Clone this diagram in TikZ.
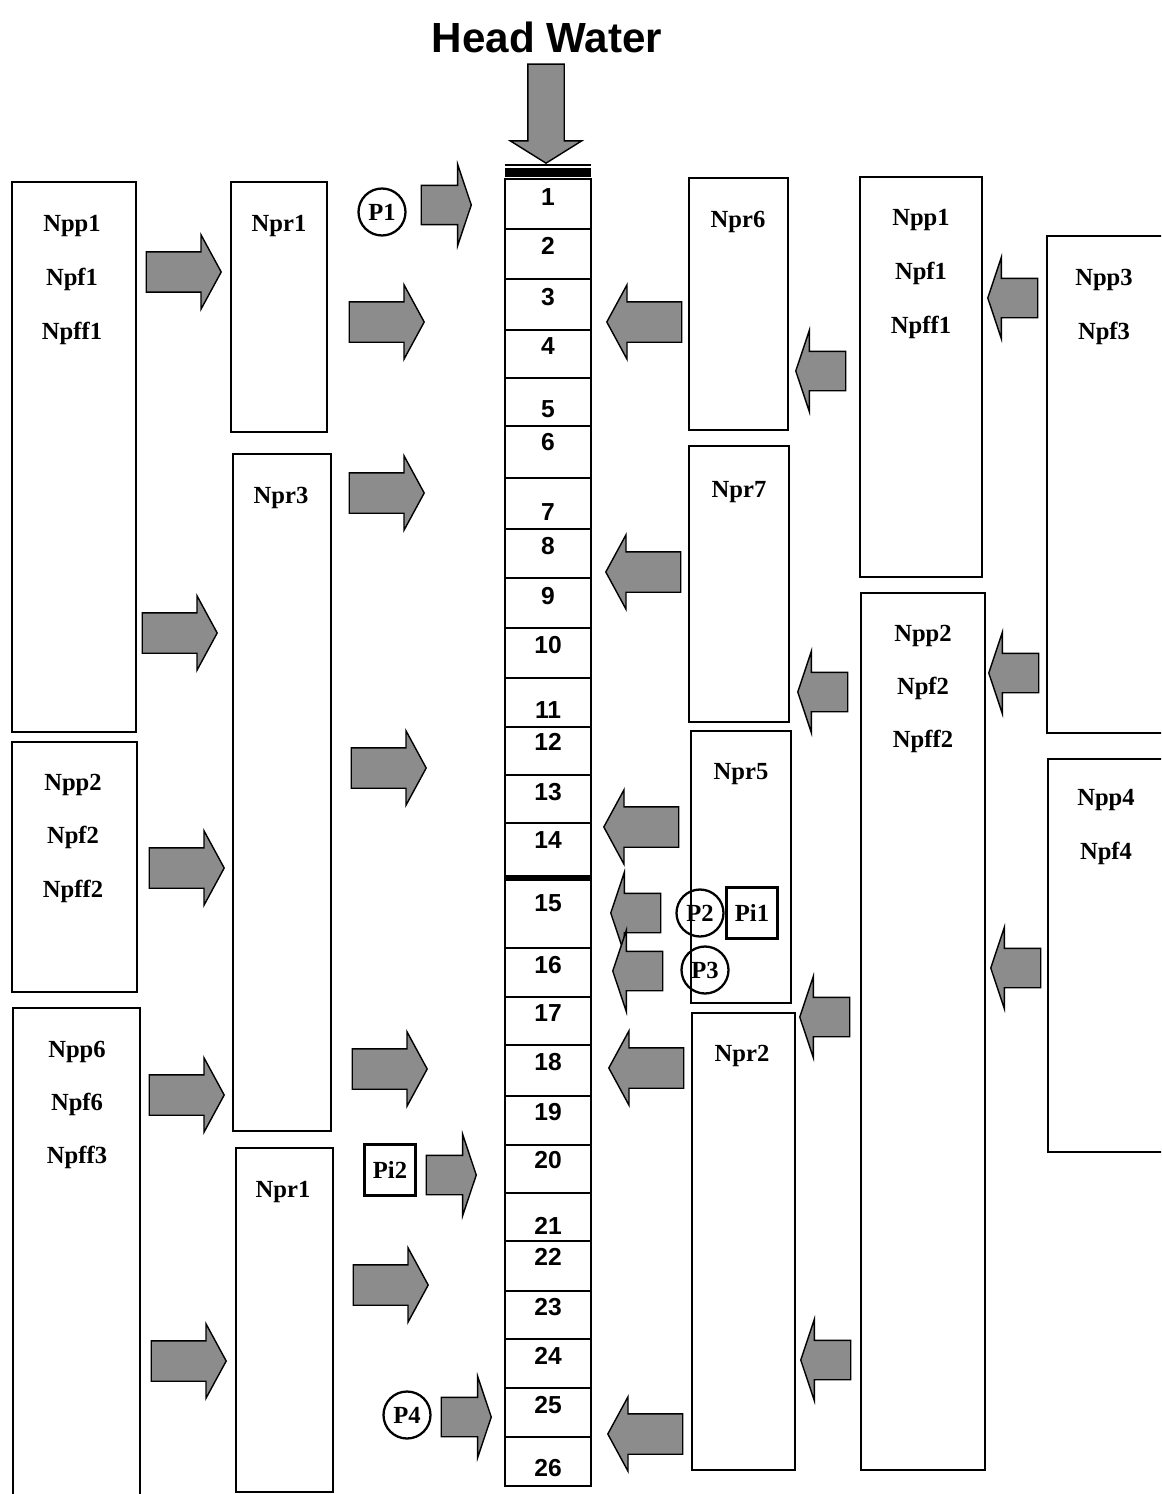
\documentclass[tikz,border=0pt]{standalone}
\usepackage{fontspec}
\setmainfont{Liberation Serif}
\newfontfamily\headfont{Liberation Sans}
\usetikzlibrary{shapes.arrows,positioning,fit,calc}
\definecolor{flowgray}{RGB}{140,140,140}

\tikzset{
    unitbox/.style={draw, line width=1pt, rectangle, inner sep=0pt},
    lbl/.style={font=\fontsize{14}{16}\selectfont\bfseries, inner sep=0pt, text height=9.3pt, text depth=0pt},
    cellnum/.style={font=\headfont\fontsize{14}{16}\selectfont\bfseries, inner sep=0pt, text height=10pt, text depth=0pt},
    pump/.style={draw, circle, line width=1.3pt, minimum size=0.94cm, inner sep=0pt, font=\fontsize{14}{16}\selectfont\bfseries},
    intake/.style={draw, rectangle, line width=1.3pt, minimum size=1.02cm, inner sep=0pt, font=\fontsize{14}{16}\selectfont\bfseries},
    flow/.style={single arrow, draw, line width=0.8pt, fill=flowgray, anchor=tip},
    bigflow/.style={flow, inner sep=0.39cm, minimum height=1.5cm, single arrow head extend=0.34cm, single arrow tip angle=123},
    smallflow/.style={flow, inner sep=0.38cm, minimum height=1.0cm, single arrow head extend=0.42cm, single arrow tip angle=143},
    toleft/.style={shape border rotate=180}
}

\begin{document}
\begin{tikzpicture}[x=0.02cm, y=-0.02cm]
    \clip (0,0) rectangle (1161,1494);
    \fill[white] (0,0) rectangle (1161,1494);

    % title and inflow
    \node[font=\headfont\fontsize{24}{28}\selectfont\bfseries] (title) at (547,37) {Head Water};
    \node[flow, shape border rotate=270, inner sep=0.35cm, minimum height=1.98cm,
          single arrow head extend=0.35cm, single arrow tip angle=116] (hw) at (546,164) {};
    \draw[line width=0.6pt] (505,165) -- (591,165);
    \draw[line width=5pt] (505,172.5) -- (591,172.5);

    % river column
    \node[unitbox, fit={(505,179) (591,1486)}] (river) {};
    \foreach \y in {229,279,330,378,426,478,529,578,628,678,727,775,823,948,997,1045,1096,1145,1193,1241,1291,1339,1388,1437}
        \draw[line width=0.8pt] (505,\y) -- (591,\y);
    \draw[line width=3.5pt] (505,878) -- (591,878);
    \foreach \n/\y in {1/197,2/246,3/297,4/346,5/409,6/442,7/512,8/546,9/596,10/645,11/710,12/742,13/792,
                       14/840,15/903,16/965,17/1013,18/1062,19/1112,20/1160,21/1226,22/1257,23/1307,24/1356,25/1405,26/1468}
        \node[cellnum] (c\n) at (548,\y) {\n};

    % left side units
    \node[unitbox, fit={(12,182) (136,732)}] (lA) {};
    \node[unitbox, fit={(12,742) (137,992)}] (lB) {};
    \node[unitbox, fit={(13,1008) (140,1520)}] (lC) {};
    \node[unitbox, fit={(231,182) (327,432)}] (prA) {};
    \node[unitbox, fit={(233,454) (331,1131)}] (prB) {};
    \node[unitbox, fit={(236,1148) (333,1492)}] (prC) {};

    \node[lbl] at (72,223) {Npp1};
    \node[lbl] at (72,277) {Npf1};
    \node[lbl] at (72,331) {Npff1};
    \node[lbl] at (73,782) {Npp2};
    \node[lbl] at (73,835) {Npf2};
    \node[lbl] at (73,889) {Npff2};
    \node[lbl] at (77,1049) {Npp6};
    \node[lbl] at (77,1102) {Npf6};
    \node[lbl] at (77,1155) {Npff3};
    \node[lbl] at (279,223) {Npr1};
    \node[lbl] at (281,495) {Npr3};
    \node[lbl] at (283,1189) {Npr1};

    % right side units
    \node[unitbox, fit={(689,178) (788,430)}] (prD) {};
    \node[unitbox, fit={(689,446) (789,722)}] (prE) {};
    \node[unitbox, fit={(691,731) (791,1003)}] (prF) {};
    \node[unitbox, fit={(692,1013) (795,1470)}] (prG) {};
    \node[unitbox, fit={(860,177) (982,577)}] (rA) {};
    \node[unitbox, fit={(861,593) (985,1470)}] (rB) {};
    \node[unitbox, fit={(1047,236) (1180,733)}] (rC) {};
    \node[unitbox, fit={(1048,759) (1180,1152)}] (rD) {};

    \node[lbl] at (738,219) {Npr6};
    \node[lbl] at (739,489) {Npr7};
    \node[lbl] at (741,771) {Npr5};
    \node[lbl] at (742,1053) {Npr2};
    \node[lbl] at (921,217) {Npp1};
    \node[lbl] at (921,271) {Npf1};
    \node[lbl] at (921,325) {Npff1};
    \node[lbl] at (923,633) {Npp2};
    \node[lbl] at (923,686) {Npf2};
    \node[lbl] at (923,739) {Npff2};
    \node[lbl] at (1104,277) {Npp3};
    \node[lbl] at (1104,331) {Npf3};
    \node[lbl] at (1106,797) {Npp4};
    \node[lbl] at (1106,851) {Npf4};

    % pumps and intakes
    \node[pump] (p1) at (382,212) {P1};
    \node[pump] (p2) at (700,913) {P2};
    \node[pump] (p3) at (705,970) {P3};
    \node[pump] (p4) at (407,1415) {P4};
    \node[intake] (pi1) at (752,913) {Pi1};
    \node[intake] (pi2) at (390,1170) {Pi2};

    % flows towards the river (left side)
    \node[bigflow] (f1) at (222,272) {};
    \node[bigflow] (f2) at (425,322) {};
    \node[bigflow] (f3) at (425,493) {};
    \node[bigflow] (f4) at (218,633) {};
    \node[bigflow] (f5) at (427,768) {};
    \node[bigflow] (f6) at (225,868) {};
    \node[bigflow] (f7) at (225,1095) {};
    \node[bigflow] (f8) at (428,1069) {};
    \node[bigflow] (f9) at (429,1285) {};
    \node[bigflow] (f10) at (227,1361) {};
    \node[smallflow] (s1) at (472,205) {};
    \node[smallflow] (s2) at (477,1175) {};
    \node[smallflow] (s3) at (492,1417) {};

    % flows towards the river (right side)
    \node[bigflow, toleft] (g1) at (606,322) {};
    \node[bigflow, toleft] (g2) at (605,572) {};
    \node[bigflow, toleft] (g3) at (603,827) {};
    \node[bigflow, toleft] (g4) at (608,1068) {};
    \node[bigflow, toleft] (g5) at (607,1434) {};
    \node[smallflow, toleft] (t1) at (795,371) {};
    \node[smallflow, toleft] (t2) at (987,298) {};
    \node[smallflow, toleft] (t3) at (797,692) {};
    \node[smallflow, toleft] (t4) at (988,673) {};
    \node[smallflow, toleft] (t5) at (610,913) {};
    \node[smallflow, toleft] (t6) at (612,971) {};
    \node[smallflow, toleft] (t7) at (799,1017) {};
    \node[smallflow, toleft] (t8) at (990,968) {};
    \node[smallflow, toleft] (t9) at (800,1360) {};
\end{tikzpicture}
\end{document}
